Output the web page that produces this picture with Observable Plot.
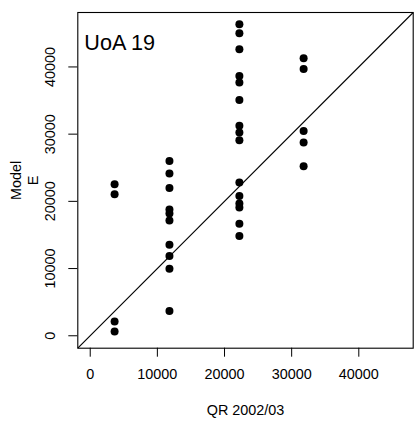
<!DOCTYPE html>
<html>
<head>
<meta charset="utf-8">
<script src="https://cdn.jsdelivr.net/npm/d3@7"></script>
<script src="https://cdn.jsdelivr.net/npm/@observablehq/plot@0.6"></script>
<style>
  html, body { margin: 0; padding: 0; background: #fff; }
</style>
</head>
<body>
<div id="chart"></div>
<script>
// QR 2002/03 value for each group of points, and the Model E values at that x
const qrValues = [3630, 11800, 22215, 31780];
const modelGroup1 = [22550, 21060, 2130, 640];
const modelGroup2 = [26020, 24140, 22000, 18780, 18180, 17140, 13560, 11860, 9980, 3670];
const modelGroup3 = [46350, 45000, 42620, 38640, 37700, 35070, 31240, 30250, 29100, 22800, 20780, 19670, 19100, 16650, 14840];
const modelGroup4 = [41280, 39690, 30450, 28760, 25230];
const tickValues = [0, 10000, 20000, 30000, 40000];
const axisLimits = [-1850, 48100];
const title = "UoA 19";
const xTitle = "QR 2002/03";
const yTitle = "Model\nE";

const groups = [modelGroup1, modelGroup2, modelGroup3, modelGroup4];
const points = groups.flatMap((g, i) => g.map(v => ({x: qrValues[i], y: v})));
const diag = [{x1: axisLimits[0], y1: axisLimits[0], x2: axisLimits[1], y2: axisLimits[1]}];

const chart = Plot.plot({
  width: 414,
  height: 423,
  marginLeft: 77.3,
  marginRight: 1.3,
  marginTop: 12,
  marginBottom: 75.3,
  style: {fontFamily: "'Liberation Sans', Arial, sans-serif", fontSize: "14.4px", color: "black", background: "white"},
  x: {domain: axisLimits},
  y: {domain: axisLimits},
  marks: [
    Plot.axisX({ticks: tickValues, tickSize: 9, tickPadding: 12, tickFormat: d => String(d), label: null, fontSize: 14.4}),
    Plot.axisY({ticks: tickValues, tickSize: 9, tickFormat: () => "", label: null}),
    Plot.text(tickValues, {y: d => d, frameAnchor: "left", dx: -27.5, rotate: -90, text: d => String(d), textAnchor: "middle", lineAnchor: "middle", fontSize: 14.4, fill: "black"}),
    Plot.link(diag, {x1: "x1", y1: "y1", x2: "x2", y2: "y2", stroke: "black", strokeWidth: 1.1}),
    Plot.dot(points, {x: "x", y: "y", r: 4, fill: "black", stroke: "none"}),
    Plot.frame({stroke: "black", strokeWidth: 1.1}),
    Plot.text([title], {frameAnchor: "top-left", dx: 6.5, dy: 37, text: d => d, textAnchor: "start", lineAnchor: "bottom", fontSize: 21.6, fill: "black"}),
    Plot.text([xTitle], {frameAnchor: "bottom", dy: 62.5, text: d => d, textAnchor: "middle", lineAnchor: "middle", fontSize: 14.4, fill: "black"}),
    Plot.text([yTitle], {frameAnchor: "left", dx: -53.5, rotate: -90, text: d => d, textAnchor: "middle", lineAnchor: "middle", lineHeight: 1.12, fontSize: 14.4, fill: "black"})
  ]
});
document.getElementById("chart").appendChild(chart);
</script>
</body>
</html>
